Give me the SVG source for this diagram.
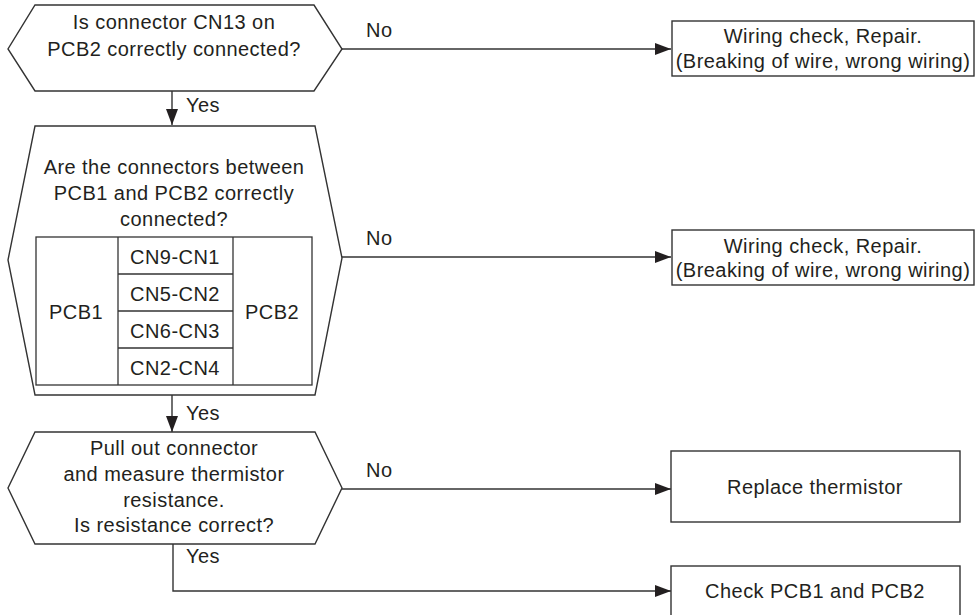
<svg xmlns="http://www.w3.org/2000/svg" width="976" height="615" viewBox="0 0 976 615">
  <style>
    text { font-family: "Liberation Sans", Arial, sans-serif; font-size: 20px; fill: #231f20; letter-spacing: 0.45px; }
    .c { text-anchor: middle; }
    .shape { fill: #ffffff; stroke: #333333; stroke-width: 1.4; }
    .cell { fill: none; stroke: #333333; stroke-width: 1.3; }
    .link { fill: none; stroke: #333333; stroke-width: 1.4; marker-end: url(#arrow); }
    .plain { fill: none; stroke: #333333; stroke-width: 1.4; }
  </style>
  <defs>
    <marker id="arrow" markerUnits="userSpaceOnUse" markerWidth="16" markerHeight="12" refX="16" refY="6" orient="auto">
      <path d="M0,0 L16,6 L0,12 Z" fill="#231f20"/>
    </marker>
  </defs>
  <rect width="976" height="615" fill="#ffffff"/>

  <!-- connectors -->
  <g id="connectors">
    <path class="link" d="M342,49 H671"/>
    <path class="link" d="M172,91 V125"/>
    <path class="link" d="M342,257 H671"/>
    <path class="link" d="M172,395 V432"/>
    <path class="link" d="M342,489 H671"/>
    <path class="link" d="M173,544 V591 H671"/>
    <text x="366" y="37">No</text>
    <text x="186" y="112">Yes</text>
    <text x="366" y="245">No</text>
    <text x="186" y="420">Yes</text>
    <text x="366" y="477">No</text>
    <text x="186" y="563">Yes</text>
  </g>

  <!-- decision: CN13 -->
  <g id="q-cn13">
    <polygon class="shape" points="35,5 314,5 342,49 314,91 35,91 8,49"/>
    <text class="c" x="174" y="29">Is connector CN13 on</text>
    <text class="c" x="174" y="56">PCB2 correctly connected?</text>
  </g>

  <!-- decision: PCB1/PCB2 connectors -->
  <g id="q-pcb-connectors">
    <polygon class="shape" points="35,126 315,126 342,258 315,395 35,395 8,260"/>
    <text class="c" x="174" y="174">Are the connectors between</text>
    <text class="c" x="174" y="200">PCB1 and PCB2 correctly</text>
    <text class="c" x="174" y="226">connected?</text>
    <rect class="cell" x="36" y="237" width="276" height="148"/>
    <line class="cell" x1="118" y1="237" x2="118" y2="385"/>
    <line class="cell" x1="233" y1="237" x2="233" y2="385"/>
    <line class="cell" x1="118" y1="274" x2="233" y2="274"/>
    <line class="cell" x1="118" y1="311" x2="233" y2="311"/>
    <line class="cell" x1="118" y1="348" x2="233" y2="348"/>
    <text class="c" x="76" y="319">PCB1</text>
    <text class="c" x="272" y="319">PCB2</text>
    <text class="c" x="175" y="264">CN9-CN1</text>
    <text class="c" x="175" y="301">CN5-CN2</text>
    <text class="c" x="175" y="338">CN6-CN3</text>
    <text class="c" x="175" y="375">CN2-CN4</text>
  </g>

  <!-- decision: thermistor resistance -->
  <g id="q-thermistor">
    <polygon class="shape" points="35,432 315,432 342,488 315,544 35,544 8,488"/>
    <text class="c" x="174" y="455">Pull out connector</text>
    <text class="c" x="174" y="481">and measure thermistor</text>
    <text class="c" x="174" y="507">resistance.</text>
    <text class="c" x="174" y="532">Is resistance correct?</text>
  </g>

  <!-- actions -->
  <g id="a-wiring-1">
    <rect class="shape" x="672" y="21" width="302" height="55"/>
    <text class="c" x="823" y="43">Wiring check, Repair.</text>
    <text class="c" x="823" y="68">(Breaking of wire, wrong wiring)</text>
  </g>
  <g id="a-wiring-2">
    <rect class="shape" x="672" y="230" width="302" height="55"/>
    <text class="c" x="823" y="253">Wiring check, Repair.</text>
    <text class="c" x="823" y="277">(Breaking of wire, wrong wiring)</text>
  </g>
  <g id="a-replace">
    <rect class="shape" x="671" y="451" width="289" height="71"/>
    <text class="c" x="815" y="494">Replace thermistor</text>
  </g>
  <g id="a-check">
    <rect class="shape" x="671" y="566" width="289" height="70"/>
    <text class="c" x="815" y="598">Check PCB1 and PCB2</text>
  </g>
</svg>
